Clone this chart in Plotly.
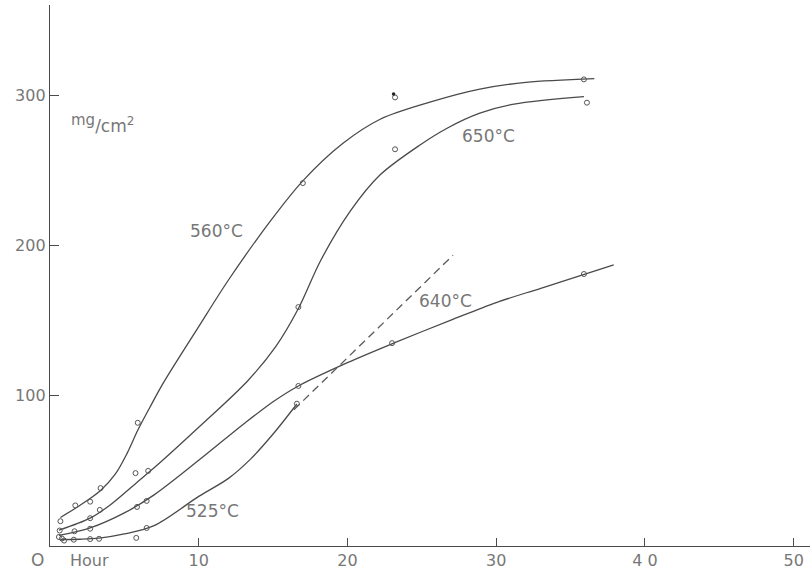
import plotly.graph_objects as go

# ---- measured points (hours, mg/cm2) ----
p560_x = [0.7, 1.7, 2.7, 3.4, 5.9, 17.0, 23.2, 35.9]
p560_y = [16.5, 27, 29.5, 38.5, 82, 241.5, 298.5, 310.5]
p650_x = [0.65, 2.7, 3.35, 5.75, 6.6, 16.7, 23.2, 36.1]
p650_y = [10.3, 18.5, 24, 48.5, 50, 159, 264, 295]
p640_x = [0.6, 1.65, 2.7, 5.85, 6.5, 16.7, 23.0, 35.9]
p640_y = [6, 9.8, 11.5, 26, 30, 106.5, 135, 181]
p525_x = [0.8, 0.95, 1.6, 2.7, 3.3, 5.8, 6.5, 16.6]
p525_y = [5, 3.6, 4.2, 4.6, 4.8, 5.4, 12, 94.7]
dot_x = [23.1]
dot_y = [300.8]

# ---- hand-drawn fitted curves ----
c560_x = [0.7, 2, 3.4, 4.4, 5.2, 5.9, 6.7, 7.65, 10, 12, 14.8, 17, 19.7, 22.2, 25.6, 28.9, 32, 36.6]
c560_y = [19, 27, 37, 48, 62, 77, 92, 109, 146, 177, 216, 243, 268, 284, 295.5, 304, 308.5, 311]
c650_x = [0.6, 2.7, 4, 5.8, 7, 10, 13.3, 15.2, 16.7, 18.2, 20.2, 22.2, 24.9, 26.7, 28.9, 31.2, 35.9]
c650_y = [10.5, 18.5, 27, 42, 52, 79, 110, 133, 158, 190, 223, 247, 267, 278, 288, 294, 299]
c640_x = [0.6, 2.7, 5, 7, 10, 13, 15, 16.7, 20, 23.1, 27, 30, 33, 37.9]
c640_y = [7, 12, 22, 34, 57, 81, 96, 106.5, 122, 135, 150.5, 162, 171.5, 187]
c525_x = [0.7, 2, 3.3, 5, 7, 10, 12, 13.5, 15, 16.6]
c525_y = [4.3, 4.5, 5.2, 8, 13.5, 33, 45, 58, 74.5, 94.5]
dash_x = [16.4, 27.1]
dash_y = [90.7, 193.5]

# ---- labels ----
curve_labels = ["560°C", "650°C", "640°C", "525°C"]
label_x = [11.2, 29.5, 26.6, 10.9]
label_y = [209.6, 272.8, 163, 23.6]
x_tickvals = [10, 20, 30, 40, 50]
x_ticktext = ["10", "20", "30", "4 0", "50"]
y_tickvals = [100, 200, 300]
y_ticktext = ["100", "200", "300"]

LINE = "#4a4a4a"
TXT = "#777777"
FONT = "DejaVu Sans"

fig = go.Figure()

for cx, cy in [(c560_x, c560_y), (c650_x, c650_y), (c640_x, c640_y), (c525_x, c525_y)]:
    fig.add_trace(go.Scatter(x=cx, y=cy, mode="lines",
                             line=dict(color=LINE, width=1.3, shape="spline", smoothing=0.9),
                             hoverinfo="skip", showlegend=False))

fig.add_trace(go.Scatter(x=dash_x, y=dash_y, mode="lines",
                         line=dict(color="#5a5a5a", width=1.3, dash="8px,5px"),
                         showlegend=False))

for px, py in [(p560_x, p560_y), (p650_x, p650_y), (p640_x, p640_y), (p525_x, p525_y)]:
    fig.add_trace(go.Scatter(x=px, y=py, mode="markers",
                             marker=dict(symbol="circle-open", size=5, color="#555555",
                                         line=dict(width=1, color="#555555")),
                             showlegend=False))

fig.add_trace(go.Scatter(x=dot_x, y=dot_y, mode="markers",
                         marker=dict(symbol="circle", size=3.5, color="#222222"),
                         showlegend=False))

for t, lx, ly in zip(curve_labels, label_x, label_y):
    fig.add_annotation(x=lx, y=ly, text=t, showarrow=False,
                       font=dict(family=FONT, size=17, color=TXT))

fig.add_annotation(x=3.5, y=281,
                   text="<sup><span style='font-size:15px'>mg</span></sup>/cm<sup>2</sup>",
                   showarrow=False, font=dict(family=FONT, size=17, color=TXT))
fig.add_annotation(xref="paper", yref="paper", x=-0.0158, y=0, yshift=-14,
                   xanchor="center", yanchor="middle",
                   text="O", showarrow=False,
                   font=dict(family=FONT, size=17, color=TXT))
fig.add_annotation(x=2.65, y=0, yshift=-14, yanchor="middle", text="Hour", showarrow=False,
                   font=dict(family=FONT, size=16, color=TXT))

fig.update_layout(
    width=810, height=571,
    margin=dict(l=49.5, r=0, t=5, b=24.5),
    plot_bgcolor="white", paper_bgcolor="white",
    xaxis=dict(range=[0, 51.1], showgrid=False, zeroline=False,
               showline=True, linecolor=LINE, linewidth=1.3,
               ticks="inside", ticklen=8, tickcolor=LINE, tickwidth=1.2,
               tickvals=x_tickvals, ticktext=x_ticktext,
               tickfont=dict(family=FONT, size=16, color=TXT)),
    yaxis=dict(range=[0, 360], showgrid=False, zeroline=False,
               showline=True, linecolor=LINE, linewidth=1.3,
               ticks="inside", ticklen=9, tickcolor=LINE, tickwidth=1.2,
               tickvals=y_tickvals, ticktext=y_ticktext,
               tickfont=dict(family=FONT, size=16, color=TXT)),
)

fig.write_html("out.html", config={"displayModeBar": False})

# remove the default page margin so the figure sits at the window's top-left corner
with open("out.html", "r", encoding="utf-8") as f:
    html = f.read()
html = html.replace("<body>", "<body style=\"margin:0;padding:0;overflow:hidden\">", 1)
with open("out.html", "w", encoding="utf-8") as f:
    f.write(html)
